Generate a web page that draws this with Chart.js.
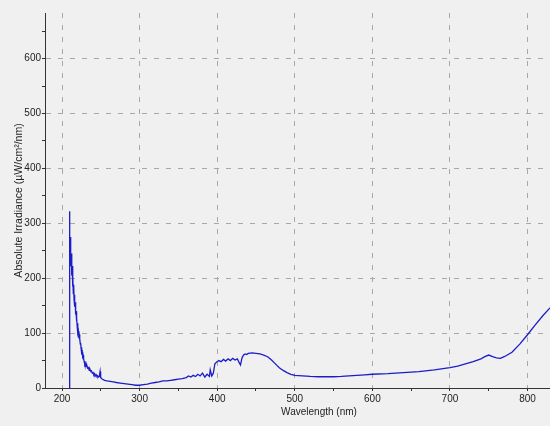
<!DOCTYPE html>
<html>
<head>
<meta charset="utf-8">
<script src="https://cdn.jsdelivr.net/npm/chart.js@4"></script>
<style>
  html, body { margin: 0; padding: 0; background: #f0f0f0; }
  #wrap { width: 550px; height: 426px; }
</style>
</head>
<body>
<div id="wrap"><canvas id="spectrum"></canvas></div>
<script>
// wavelength (nm)
const wavelengths = [209.6, 209.7, 209.9, 210.3, 210.7, 211.1, 211.5, 212, 212.5, 213, 213.5, 214, 214.5, 215, 215.5, 216,
  216.5, 217, 217.5, 218, 218.5, 219, 219.5, 220, 220.5, 221, 221.5, 222, 222.5, 223, 223.5, 224, 224.5, 225, 225.5,
  226, 226.5, 227, 227.5, 228, 228.5, 229, 229.5, 230, 231, 232, 233, 234, 235, 236, 237, 238, 239, 240, 241, 242, 243,
  244, 245, 246, 247, 248,
  249, 249.5, 250, 252, 255, 258, 262, 266, 270, 275, 280, 285, 290, 295, 300, 305, 310, 315, 320, 325, 330, 335, 340,
  345, 350, 355, 360, 363, 366, 369, 372, 375, 378, 381, 384, 387, 390, 391, 393, 395, 397, 399, 402, 405, 408, 411,
  414, 417, 420, 423, 426, 428, 430, 432, 434, 436, 438, 440, 445, 450, 455, 460, 465, 470, 475, 480, 485, 490, 495,
  500, 510, 520, 530, 540, 550, 560, 570, 580, 590, 600, 620, 640, 660, 680, 700, 710, 720, 730, 740, 745, 750, 755,
  760, 765, 770, 780, 790, 800, 810, 820, 829];
// absolute irradiance (µW/cm²/nm)
const irradiance = [0, 322, 240, 275, 230, 268, 222, 245, 205, 222, 185, 204, 172, 188, 160, 170,
  148, 156, 134, 140, 122, 128, 112, 118, 100, 104, 96, 98, 88, 90, 80, 82, 72, 74, 64,
  66, 58, 60, 52, 54, 48, 49, 43, 45, 39, 41, 36, 37, 32, 34, 30, 31, 27, 28, 24, 26, 22,
  24, 21, 22, 20, 21,
  30, 18, 19, 16, 14, 13, 12, 11, 10, 9, 8, 7, 6, 5, 5, 6, 7, 9, 10, 11, 13, 13, 14,
  15, 16, 17, 19, 22, 20, 23, 21, 25, 22, 27, 20, 25, 21, 33, 22, 27, 44, 47, 50, 48, 52, 49,
  53, 50, 54, 51, 53, 47, 42, 55, 60, 62, 61, 63, 64, 63, 62, 60, 57, 51, 44, 37, 32, 28, 25,
  23, 22, 21, 20.5, 20.5, 20.5, 21, 22, 23, 24, 25, 26, 28, 30, 33, 37, 40, 44, 48, 53, 57, 60, 57,
  55, 54, 57, 65, 80, 97, 115, 132, 146];

// axis ticks (minor every 50, labelled every 100)
const xTicks = [200, 250, 300, 350, 400, 450, 500, 550, 600, 650, 700, 750, 800];
const yTicks = [0, 50, 100, 150, 200, 250, 300, 350, 400, 450, 500, 550, 600, 650];

const points = wavelengths.map((w, i) => ({ x: w, y: irradiance[i] }));

const tickFont = { family: 'Liberation Sans', size: 10 };
const gridColor = c => (c.tick && c.tick.value % 100 === 0) ? '#a8a8a8' : 'transparent';
const label100 = v => v % 100 === 0 ? v : '';

// x-axis title sits a little right of the plot centre in the original
const xTitle = {
  id: 'xTitle',
  afterDraw(chart) {
    const ctx = chart.ctx;
    ctx.save();
    ctx.font = '10px "Liberation Sans"';
    ctx.fillStyle = '#222';
    ctx.textAlign = 'center';
    ctx.textBaseline = 'middle';
    ctx.fillText('Wavelength (nm)', 319, 412);
    ctx.restore();
  }
};

new Chart(document.getElementById('spectrum'), {
  type: 'line',
  data: {
    datasets: [{
      data: points,
      borderColor: '#1c1cc8',
      borderWidth: 1.3,
      pointRadius: 0,
      tension: 0,
      fill: false
    }]
  },
  options: {
    responsive: true,
    maintainAspectRatio: false,
    animation: false,
    layout: { padding: { top: 13, right: 0, left: 0, bottom: 0 } },
    plugins: { legend: { display: false }, tooltip: { enabled: false } },
    scales: {
      x: {
        type: 'linear',
        min: 178,
        max: 829,
        afterFit: s => { s.height = 38; },
        afterBuildTicks: s => { s.ticks = xTicks.map(v => ({ value: v })); },
        border: { color: '#333', width: 1, dash: [5, 7] },
        grid: { color: gridColor, tickColor: '#333', tickLength: 3 },
        ticks: { autoSkip: false, maxRotation: 0, padding: 2, color: '#222', font: tickFont, callback: label100 }
      },
      y: {
        min: 0,
        max: 683,
        afterFit: s => { s.width = 45; },
        afterBuildTicks: s => { s.ticks = yTicks.map(v => ({ value: v })); },
        border: { color: '#333', width: 1, dash: [5, 7] },
        grid: { color: gridColor, tickColor: '#333', tickLength: 3 },
        ticks: { autoSkip: false, padding: 1, color: '#222', font: tickFont, callback: label100 },
        title: {
          display: true, text: 'Absolute Irradiance (µW/cm²/nm)', color: '#222',
          font: { family: 'Liberation Sans', size: 10.5 }, padding: { top: 13, bottom: 0 }
        }
      }
    }
  },
  plugins: [xTitle]
});
</script>
</body>
</html>
